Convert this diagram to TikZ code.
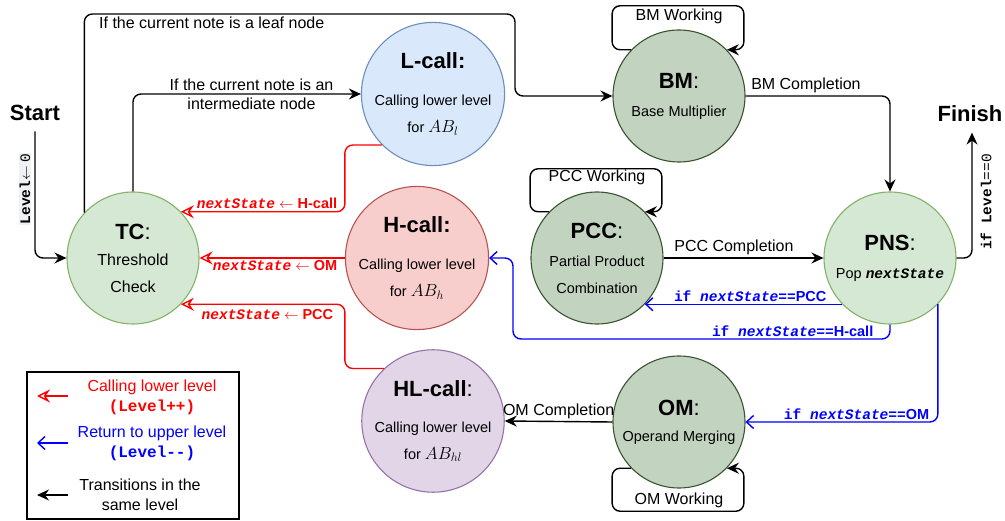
\RequirePackage{fix-cm}
\documentclass[tikz,border=0pt]{standalone}
\usepackage{fontspec}
\setmainfont{Liberation Sans}
\setmonofont{Liberation Mono}
\usepackage{tikz}
\usetikzlibrary{arrows.meta,positioning,calc}

\definecolor{tcfill}{HTML}{D5E8D4}
\definecolor{tcline}{HTML}{82B366}
\definecolor{lfill}{HTML}{DAE8FC}
\definecolor{lline}{HTML}{6C8EBF}
\definecolor{hfill}{HTML}{F8CECC}
\definecolor{hline}{HTML}{B85450}
\definecolor{hlfill}{HTML}{E1D5E7}
\definecolor{hlline}{HTML}{9673A6}
\definecolor{opfill}{HTML}{C2D4C0}
\definecolor{opline}{HTML}{3A5431}
\definecolor{callred}{HTML}{FF0000}
\definecolor{retblue}{HTML}{0000FF}
\definecolor{codebg}{HTML}{F0F1F4}

\newcommand{\titlef}{\fontsize{22}{26}\selectfont}
\newcommand{\subf}{\fontsize{14.5}{27}\selectfont}
\newcommand{\tcf}{\fontsize{16}{27}\selectfont}
\newcommand{\mathf}{\fontsize{17.5}{27}\selectfont}
\newcommand{\lblf}{\fontsize{16}{20}\selectfont}
\newcommand{\smallf}{\fontsize{14.5}{17}\selectfont}
\newcommand{\nextst}{{\ttfamily\bfseries\itshape nextState}}
\newcommand{\ifnext}[1]{{\ttfamily\bfseries if \itshape nextState\upshape==}\textbf{#1}}

\tikzset{
  state/.style={circle, draw, line width=1.1pt, minimum size=132pt, inner sep=0pt, align=center, font=\subf},
  tcstate/.style={state, fill=tcfill, draw=tcline},
  lstate/.style={state, fill=lfill, draw=lline},
  hstate/.style={state, fill=hfill, draw=hline},
  hlstate/.style={state, fill=hlfill, draw=hlline},
  opstate/.style={state, fill=opfill, draw=opline},
  samelvl/.style={line width=1.4pt, rounded corners=8pt, -{Stealth[length=12pt,width=11pt,inset=4pt]}},
  callarr/.style={draw=callred, line width=1.4pt, rounded corners=8pt, -{Stealth[open,length=13pt,width=13pt,inset=4.5pt]}},
  retarr/.style={draw=retblue, line width=1.4pt, rounded corners=8pt, -{Straight Barb[length=7pt,width=13pt]}},
  lbl/.style={font=\lblf, inner sep=2pt},
  calllbl/.style={font=\smallf, text=callred, inner sep=2pt},
  retlbl/.style={font=\smallf, text=retblue, inner sep=2pt}
}

\begin{document}
\begin{tikzpicture}[x=1pt, y=-1pt]
  \useasboundingbox (0,0) rectangle (1005,521);

  % States
  \node[tcstate] (tc) at (133,258) {{\titlef\textbf{TC}:}\\[-1pt]{\tcf Threshold}\\{\tcf Check}};
  \node[lstate] (lcall) at (433,94) {{\titlef\textbf{L-call:}}\\[10pt]Calling lower level\\for {\mathf$AB_l$}};
  \node[hstate] (hcall) at (417,258) {{\titlef\textbf{H-call:}}\\[10pt]Calling lower level\\for {\mathf$AB_h$}};
  \node[hlstate] (hlcall) at (433,421) {{\titlef\textbf{HL-call}:}\\[9pt]Calling lower level\\for {\mathf$AB_{hl}$}};
  \node[opstate] (bm) at (679,96) {{\titlef\textbf{BM}:}\\[1pt]Base Multiplier};
  \node[opstate] (pcc) at (597,258) {{\titlef\textbf{PCC}:}\\[1pt]Partial Product\\Combination};
  \node[tcstate] (pns) at (890,258) {{\titlef\textbf{PNS}:}\\[1pt]Pop \nextst};
  \node[opstate] (om) at (679,422) {{\titlef\textbf{OM}:}\\[-1pt]Operand Merging};

  % Start and finish
  \node[font=\titlef\bfseries] (start) at (35,113) {Start};
  \node[font=\titlef\bfseries] (finish) at (970,114) {Finish};
  \draw[samelvl] ([yshift=-7pt]start.south) |- (tc.west);
  \node[rotate=90, fill=codebg, inner sep=1pt, font=\smallf] (initlbl) at (25,189) {{\ttfamily\bfseries Level}$\leftarrow$ {\ttfamily 0}};
  \draw[samelvl] (pns.east) -| ([xshift=2pt,yshift=-7pt]finish.south);
  \node[rotate=90, font=\smallf] (endlbl) at (986,202) {\ttfamily\bfseries if Level\mdseries==0};

  % Same level transitions
  \coordinate (leafturn) at (515,14);
  \draw[samelvl] (tc.137) |- (leafturn) |- (bm.west);
  \node[lbl, anchor=west] (leaflbl) at (97,23) {If the current note is a leaf node};
  \draw[samelvl] (tc.north) |- node[lbl, pos=0.76, align=center] (midlbl) {If the current note is an\\[-1pt]intermediate node} (lcall.west);
  \draw[samelvl] (bm.east) -| node[lbl, pos=0, above right, xshift=3pt] (bmdone) {BM Completion} (pns.north);
  \draw[samelvl] (pcc.east) -- node[lbl, pos=0.44, above] (pccdone) {PCC Completion} (pns.west);
  \draw[samelvl] (om.west) -- node[lbl, above] (omdone) {OM Completion} (hlcall.east);

  % Working loops
  \draw[samelvl] (bm.136) -| ($(bm.136)+(-19,-44)$) -| ($(bm.44)+(17,0)$) -- (bm.44);
  \node[lbl] (bmwork) at ($(bm.north)+(0,-13.5)$) {BM Working};
  \draw[samelvl] (pcc.136) -| ($(pcc.136)+(-19,-43)$) -| ($(pcc.44)+(17,0)$) -- (pcc.44);
  \node[lbl] (pccwork) at ($(pcc.north)+(0,-14)$) {PCC Working};
  \draw[samelvl] (om.-136) -| ($(om.-136)+(-19,43)$) -| ($(om.-44)+(17,0)$) -- (om.-44);
  \node[lbl] (omwork) at ($(om.south)+(0,11.5)$) {OM Working};

  % Calling lower level
  \draw[callarr] (lcall.225) -| (hcall.west |- tc.44) -- node[calllbl, pos=0, above left, xshift=-5pt] (hcalllbl) {\nextst\ $\leftarrow$\ \textbf{H-call}} (tc.44);
  \draw[callarr] (hcall.west) -- node[calllbl, pos=0, below left, xshift=-5pt] (omlbl) {\nextst\ $\leftarrow$\ \textbf{OM}} (tc.east);
  \draw[callarr] (hlcall.133) -| (hcall.west |- tc.-44) -- node[calllbl, pos=0, below left, xshift=-9pt, yshift=-2pt] (pcclbl) {\nextst\ $\leftarrow$\ \textbf{PCC}} (tc.-44);

  % Return to upper level
  \coordinate (hret) at (513,339);
  \draw[retarr] (pns.224) -- node[retlbl, pos=0, above left, xshift=-13pt] (retpcc) {\ifnext{PCC}} (pcc.-44);
  \draw[retarr] (pns.south) |- node[retlbl, pos=0.5, above left, xshift=-14pt] (reth) {\ifnext{H-call}} (hret) |- (hcall.east);
  \draw[retarr] (pns.-44) |- node[retlbl, pos=0.5, above left, xshift=-6pt] (retom) {\ifnext{OM}} (om.east);

  % Legend
  \node[draw, line width=1.1pt, minimum width=212pt, minimum height=147pt, inner sep=0pt] (legend) at (133,445.5) {};
  \node[lbl, text=callred, align=center] (lgcall) at (152,397) {Calling lower level\\{\ttfamily\bfseries (Level++)}};
  \node[lbl, text=retblue, align=center] (lgret) at (152,443.5) {Return to upper level\\{\ttfamily\bfseries (Level-{}-)}};
  \node[lbl, align=center] (lgsame) at (140,494.5) {Transitions in the\\same level};
  \coordinate (lgcallA) at (68,396);
  \coordinate (lgcallB) at (37,396);
  \coordinate (lgretA) at (68,443);
  \coordinate (lgretB) at (37,443);
  \coordinate (lgsameA) at (68,495);
  \coordinate (lgsameB) at (37,495);
  \draw[callarr] (lgcallA) -- (lgcallB);
  \draw[retarr] (lgretA) -- (lgretB);
  \draw[samelvl] (lgsameA) -- (lgsameB);
\end{tikzpicture}
\end{document}
